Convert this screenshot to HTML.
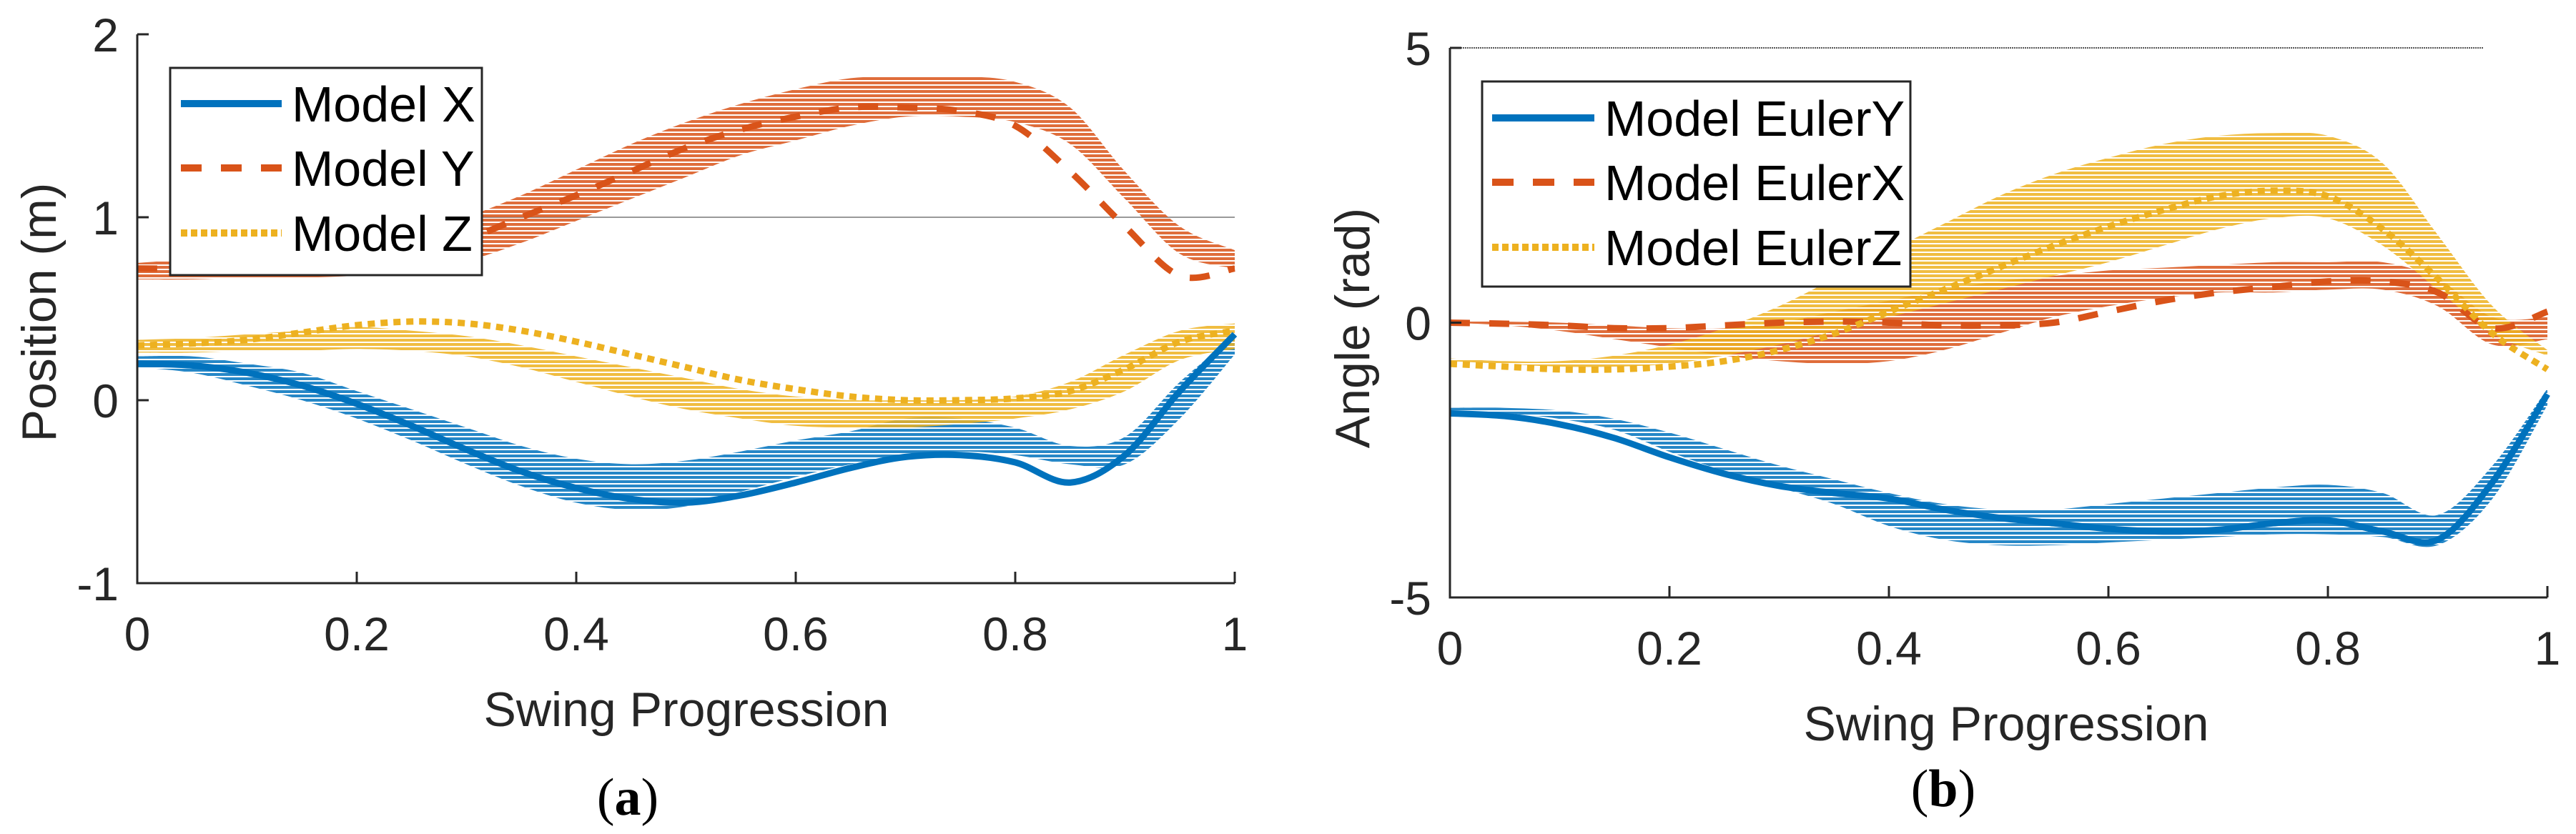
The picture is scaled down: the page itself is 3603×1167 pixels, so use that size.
<!DOCTYPE html>
<html><head><meta charset="utf-8"><style>
html,body{margin:0;padding:0;background:#fff;}
svg{display:block;}
text{font-family:"Liberation Sans",sans-serif;fill:#262626;}
</style></head><body>
<svg id="fig" width="3603" height="1167" viewBox="0 0 3603 1167" xmlns="http://www.w3.org/2000/svg">
<defs>
<pattern id="hb" width="12" height="6" patternUnits="userSpaceOnUse"><rect width="12" height="4" fill="#0072BD"/></pattern>
<pattern id="ho" width="12" height="6" patternUnits="userSpaceOnUse"><rect width="12" height="4" fill="#D95319"/></pattern>
<pattern id="hy" width="12" height="6" patternUnits="userSpaceOnUse"><rect width="12" height="4" fill="#EDB120"/></pattern>
</defs>
<g id="pa"></g>
<g id="pb"></g>
</svg>
<script>
const xs = [0,0.05,0.1,0.15,0.2,0.25,0.3,0.35,0.4,0.45,0.5,0.55,0.6,0.65,0.7,0.75,0.8,0.85,0.9,0.95,1];
// Panel a: position (m)
const aX   = [0.2,0.19,0.15,0.08,-0.02,-0.14,-0.27,-0.39,-0.48,-0.54,-0.56,-0.52,-0.45,-0.37,-0.31,-0.3,-0.34,-0.45,-0.3,0.05,0.36];
const aXlo = [0.18,0.15,0.08,0.0,-0.1,-0.22,-0.35,-0.47,-0.56,-0.6,-0.58,-0.5,-0.42,-0.35,-0.3,-0.28,-0.3,-0.35,-0.35,-0.1,0.25];
const aXhi = [0.24,0.24,0.2,0.15,0.05,-0.05,-0.15,-0.25,-0.32,-0.35,-0.33,-0.28,-0.22,-0.17,-0.1,-0.1,-0.15,-0.25,-0.2,0.1,0.35];
const aY   = [0.72,0.72,0.73,0.74,0.76,0.8,0.88,1.0,1.12,1.25,1.38,1.48,1.55,1.6,1.6,1.58,1.5,1.25,0.95,0.68,0.72];
const aYlo = [0.66,0.66,0.67,0.67,0.68,0.7,0.76,0.86,0.98,1.1,1.22,1.34,1.42,1.5,1.55,1.55,1.52,1.4,1.1,0.8,0.72];
const aYhi = [0.75,0.77,0.78,0.8,0.84,0.9,1.0,1.12,1.26,1.4,1.52,1.62,1.7,1.76,1.77,1.77,1.74,1.6,1.25,0.95,0.82];
const aZ   = [0.3,0.31,0.33,0.37,0.41,0.43,0.42,0.38,0.32,0.25,0.18,0.11,0.06,0.02,0.0,0.0,0.01,0.05,0.17,0.32,0.38];
const aZlo = [0.26,0.26,0.27,0.27,0.28,0.27,0.24,0.18,0.1,0.02,-0.05,-0.1,-0.14,-0.15,-0.15,-0.13,-0.1,-0.05,0.05,0.22,0.28];
const aZhi = [0.33,0.34,0.36,0.38,0.4,0.38,0.35,0.3,0.24,0.18,0.12,0.06,0.02,0.0,0.0,0.0,0.02,0.1,0.25,0.38,0.42];
const aYTicks = [-1,0,1,2];
// Panel b: angle (rad)
const bY   = [-1.65,-1.7,-1.85,-2.1,-2.45,-2.75,-2.97,-3.1,-3.2,-3.4,-3.55,-3.65,-3.75,-3.8,-3.77,-3.65,-3.6,-3.8,-3.95,-2.9,-1.3];
const bYlo = [-1.6,-1.65,-1.75,-1.95,-2.35,-2.7,-3.0,-3.3,-3.7,-3.95,-4.05,-4.05,-4.0,-3.95,-3.9,-3.85,-3.85,-3.9,-4.05,-3.2,-1.5];
const bYhi = [-1.55,-1.55,-1.6,-1.75,-2.0,-2.3,-2.6,-2.85,-3.1,-3.3,-3.4,-3.4,-3.3,-3.2,-3.1,-3.0,-2.95,-3.1,-3.5,-2.6,-1.2];
const bX   = [0.0,-0.02,-0.05,-0.1,-0.1,-0.05,0.0,0.02,0.0,-0.05,-0.05,0.0,0.2,0.4,0.55,0.65,0.75,0.75,0.55,-0.1,0.2];
const bXlo = [0,-0.05,-0.15,-0.3,-0.45,-0.6,-0.7,-0.75,-0.7,-0.5,-0.2,0.1,0.3,0.45,0.55,0.55,0.6,0.6,0.3,-0.4,-0.3];
const bXhi = [0.05,0.02,0,-0.05,-0.1,-0.1,0,0.2,0.4,0.6,0.75,0.85,0.95,1.0,1.05,1.1,1.1,1.1,0.8,0.1,0.1];
const bZ   = [-0.75,-0.8,-0.85,-0.85,-0.8,-0.7,-0.5,-0.2,0.2,0.6,1.0,1.4,1.75,2.05,2.3,2.4,2.3,1.7,0.8,-0.2,-0.85];
const bZlo = [-0.7,-0.75,-0.8,-0.8,-0.75,-0.6,-0.4,-0.15,0.1,0.35,0.6,0.85,1.1,1.4,1.7,1.9,1.9,1.4,0.6,-0.2,-0.6];
const bZhi = [-0.65,-0.7,-0.7,-0.6,-0.4,-0.1,0.3,0.8,1.3,1.8,2.3,2.7,3.0,3.25,3.4,3.45,3.4,2.9,1.6,0.3,-0.5];
const bYTicks = [-5,0,5];
const xTicks = [0,0.2,0.4,0.6,0.8,1];
const xTickLabels = ["0","0.2","0.4","0.6","0.8","1"];

const NS="http://www.w3.org/2000/svg";
function mk(parent,tag,attrs){const e=document.createElementNS(NS,tag);for(const k in attrs)e.setAttribute(k,attrs[k]);parent.appendChild(e);return e;}
function smooth(pts){let d="M"+pts[0][0]+","+pts[0][1];for(let i=0;i<pts.length-1;i++){const p0=pts[Math.max(0,i-1)],p1=pts[i],p2=pts[i+1],p3=pts[Math.min(pts.length-1,i+2)];const c1=[p1[0]+(p2[0]-p0[0])/6,p1[1]+(p2[1]-p0[1])/6];const c2=[p2[0]-(p3[0]-p1[0])/6,p2[1]-(p3[1]-p1[1])/6];d+="C"+c1[0].toFixed(1)+","+c1[1].toFixed(1)+" "+c2[0].toFixed(1)+","+c2[1].toFixed(1)+" "+p2[0].toFixed(1)+","+p2[1].toFixed(1);}return d;}

function panel(g,cfg){
  const sx=v=>cfg.x0+(cfg.x1-cfg.x0)*v;
  const sy=v=>cfg.yb+(cfg.yt-cfg.yb)*(v-cfg.ymin)/(cfg.ymax-cfg.ymin);
  if(cfg.ref){const r=mk(g,'line',{x1:cfg.ref.xa,x2:cfg.x1,y1:sy(cfg.ref.v),y2:sy(cfg.ref.v),stroke:'#999',"stroke-width":2});
    
    }
  cfg.series.forEach(s=>{
    const up=xs.map((x,i)=>[sx(x),sy(s.hi[i])]);
    const lo=xs.map((x,i)=>[sx(x),sy(s.lo[i])]).reverse();
    const band=mk(g,'path',{d:smooth(up)+"L"+smooth(lo).slice(1)+"Z",fill:s.pat,opacity:0.85});
    
    
  });
  cfg.series.forEach(s=>{
    const pts=xs.map((x,i)=>[sx(x),sy(s.v[i])]);
    const ln=mk(g,'path',{d:smooth(pts),fill:'none',stroke:s.color,"stroke-width":9,"stroke-dasharray":s.dash});
    
    
  });
  // axes
  const ax=mk(g,'path',{d:`M${cfg.x0},${cfg.yt}V${cfg.yb}H${cfg.x1}`,fill:'none',stroke:'#262626',"stroke-width":3});
  
  
  if(cfg.topdot){const t=mk(g,'line',{x1:cfg.x0,x2:cfg.topdot,y1:cfg.yt,y2:cfg.yt,stroke:'#555',"stroke-width":2,"stroke-dasharray":"2 1"});
    
    }
  xTicks.forEach((t,i)=>{
    const x=sx(t);
    mk(g,'line',{x1:x,x2:x,y1:cfg.yb,y2:cfg.yb-16,stroke:'#262626',"stroke-width":3});
    const tx=mk(g,'text',{x:x,y:cfg.yb+94,"font-size":66,"text-anchor":"middle"});tx.textContent=xTickLabels[i];
    
    
  });
  cfg.yticks.forEach(t=>{
    const y=sy(t);
    mk(g,'line',{x1:cfg.x0,x2:cfg.x0+16,y1:y,y2:y,stroke:'#262626',"stroke-width":3});
    const tx=mk(g,'text',{x:cfg.x0-26,y:y+24,"font-size":66,"text-anchor":"end"});tx.textContent=String(t);
    
    
  });
  const xl=mk(g,'text',{x:cfg.xlx,y:cfg.xly,"font-size":68,"text-anchor":"middle"});xl.textContent="Swing Progression";
  
  
  const yl=mk(g,'text',{x:0,y:0,"font-size":68,"text-anchor":"middle",transform:`translate(${cfg.ylx},${cfg.yly}) rotate(-90)`});yl.textContent=cfg.ylabel;
  
  
  const cap=mk(g,'text',{x:cfg.capx,y:cfg.capy,"font-size":74,"text-anchor":"middle",style:'font-family:"Liberation Serif",serif;fill:#000'});
  cap.innerHTML='(<tspan font-weight="bold">'+cfg.cap+'</tspan>)';
  
  
  // legend
  const L=cfg.leg;
  const lb=mk(g,'rect',{x:L.x,y:L.y,width:L.w,height:L.h,fill:'#fff',stroke:'#262626',"stroke-width":3});
  
  
  cfg.series.forEach((s,i)=>{
    const y=L.rows[i];
    const ll=mk(g,'line',{x1:L.lx0,x2:L.lx1,y1:y,y2:y,stroke:s.color,"stroke-width":10,"stroke-dasharray":s.legdash});
    
    
    const lt=mk(g,'text',{x:L.tx,y:y+25,"font-size":70,style:'fill:#000'});lt.textContent=s.label;
    
    
  });
}
panel(document.getElementById('pa'),{
  x0:192,x1:1727,yt:48,yb:816,ymin:-1,ymax:2,yticks:aYTicks,ref:{v:1,xa:674},
  xlx:960,xly:1016,ylabel:"Position (m)",ylx:78,yly:437,cap:"a",capx:878,capy:1140,
  leg:{x:238,y:95,w:436,h:290,rows:[145,235,326],lx0:253,lx1:394,tx:408},
  series:[
    {name:'model-x',label:'Model X',v:aX,lo:aXlo,hi:aXhi,color:'#0072BD',pat:'url(#hb)',dash:'none',legdash:'none'},
    {name:'model-y',label:'Model Y',v:aY,lo:aYlo,hi:aYhi,color:'#D95319',pat:'url(#ho)',dash:'28 27',legdash:'29 27'},
    {name:'model-z',label:'Model Z',v:aZ,lo:aZlo,hi:aZhi,color:'#EDB120',pat:'url(#hy)',dash:'10 8',legdash:'9 5'}
  ]
});
panel(document.getElementById('pb'),{
  x0:2028,x1:3563,yt:67,yb:836,ymin:-5,ymax:5,yticks:bYTicks,topdot:3474,
  xlx:2806,xly:1036,ylabel:"Angle (rad)",ylx:1915,yly:459,cap:"b",capx:2718,capy:1128,
  leg:{x:2073,y:114,w:599,h:287,rows:[165,255,346],lx0:2087,lx1:2230,tx:2244},
  series:[
    {name:'model-euler-y',label:'Model EulerY',v:bY,lo:bYlo,hi:bYhi,color:'#0072BD',pat:'url(#hb)',dash:'none',legdash:'none'},
    {name:'model-euler-x',label:'Model EulerX',v:bX,lo:bXlo,hi:bXhi,color:'#D95319',pat:'url(#ho)',dash:'28 27',legdash:'30 27'},
    {name:'model-euler-z',label:'Model EulerZ',v:bZ,lo:bZlo,hi:bZhi,color:'#EDB120',pat:'url(#hy)',dash:'10 8',legdash:'9 5'}
  ]
});
</script>
</body></html>
